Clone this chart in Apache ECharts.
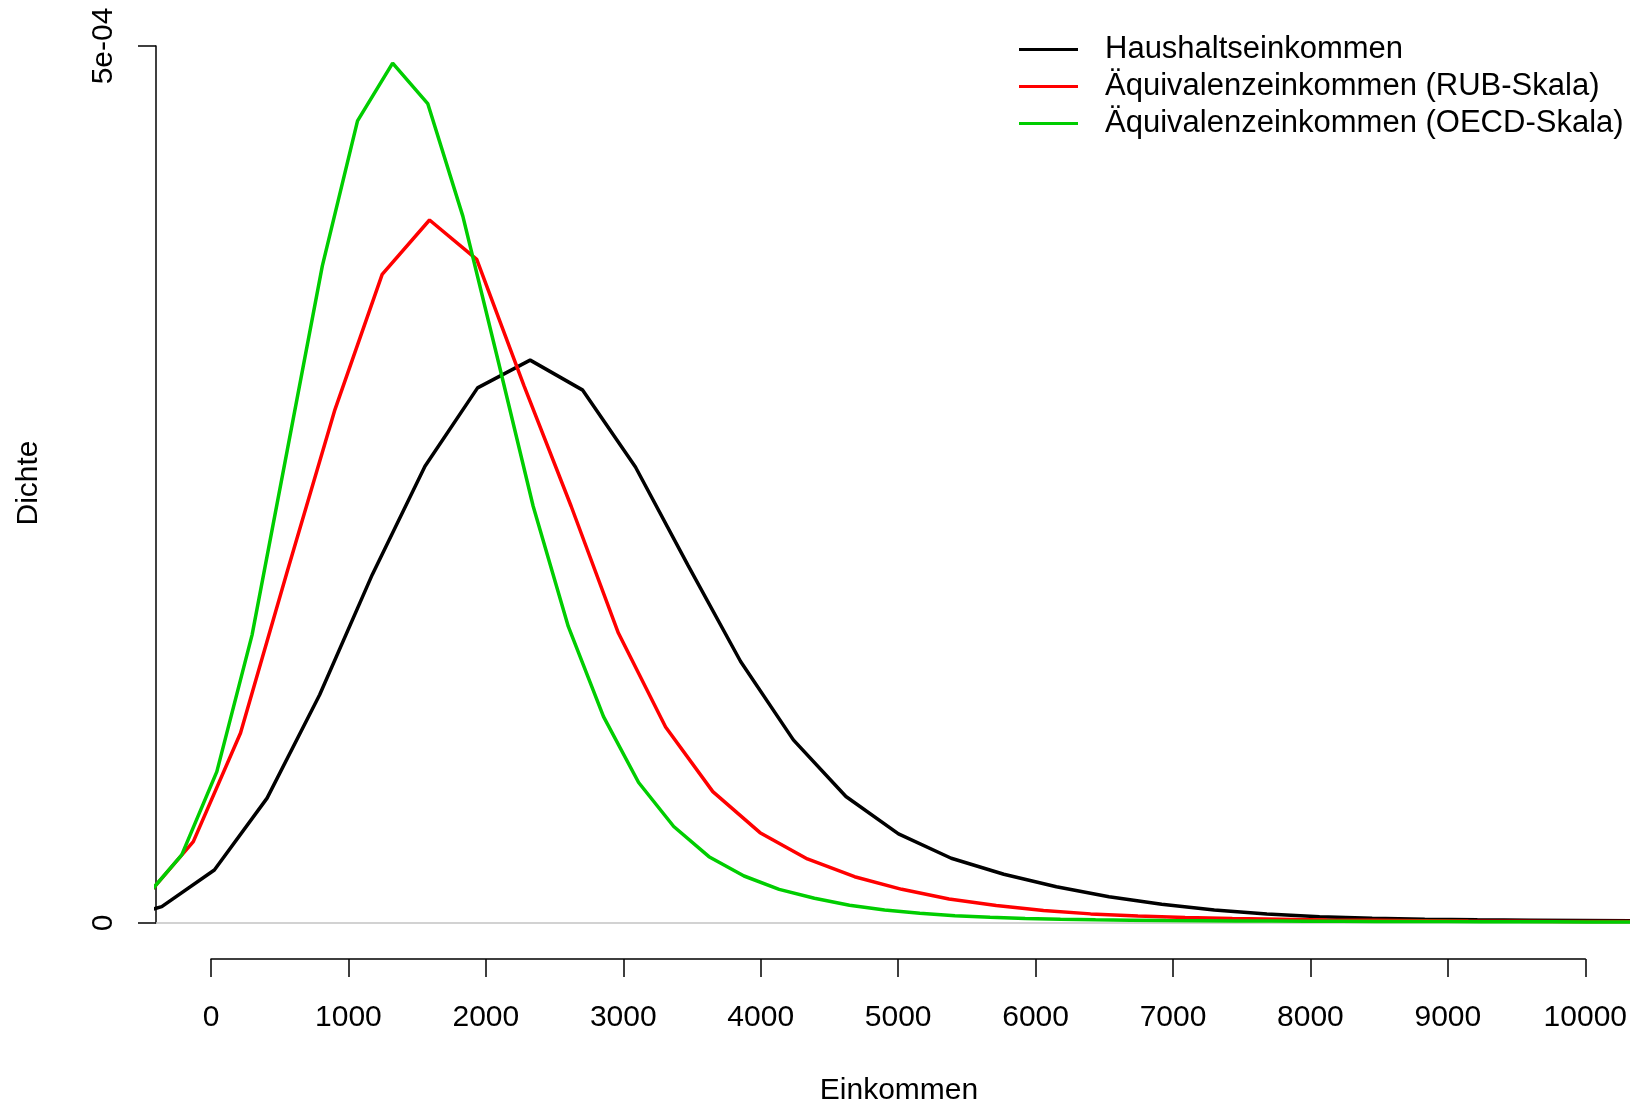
<!DOCTYPE html>
<html>
<head>
<meta charset="utf-8">
<script src="https://cdn.jsdelivr.net/npm/echarts@6/dist/echarts.min.js"></script>
<style>
html,body{margin:0;padding:0;background:#fff;}
#chart{width:1630px;height:1103px;}
</style>
</head>
<body>
<div id="chart"></div>
<script>
// ---- data ----
var seriesNames = ['Haushaltseinkommen', 'Äquivalenzeinkommen (RUB-Skala)', 'Äquivalenzeinkommen (OECD-Skala)'];
var seriesColors = ['#000000', '#FF0000', '#00CD00'];

var haushaltX = [-740, -358, 24, 407, 789, 1171, 1554, 1936, 2318, 2700, 3083, 3465, 3847, 4230, 4612, 4994, 5377, 5759, 6141, 6523, 6906, 7288, 7670, 8053, 8435, 8817, 9199, 9582, 9964, 10346];
var haushaltY = [0.9e-6, 9.3e-6, 3.02e-5, 7.12e-5, 1.301e-4, 1.986e-4, 2.604e-4, 3.051e-4, 3.209e-4, 3.038e-4, 2.600e-4, 2.039e-4, 1.491e-4, 1.044e-4, 7.21e-5, 5.08e-5, 3.69e-5, 2.78e-5, 2.07e-5, 1.50e-5, 1.07e-5, 7.4e-6, 5.1e-6, 3.6e-6, 2.7e-6, 2.2e-6, 1.8e-6, 1.6e-6, 1.4e-6, 1.2e-6];

var rubX = [-472, -129, 214, 557, 900, 1243, 1587, 1930, 2273, 2616, 2959, 3302, 3645, 3988, 4332, 4675, 5018, 5361, 5704, 6047, 6390, 6733, 7076, 7419, 7762, 8105, 8448, 8791, 9134, 9477, 9820, 10163, 10506];
var rubY = [1.51e-5, 4.64e-5, 1.083e-4, 2.014e-4, 2.927e-4, 3.698e-4, 4.008e-4, 3.783e-4, 3.064e-4, 2.376e-4, 1.653e-4, 1.117e-4, 7.49e-5, 5.15e-5, 3.65e-5, 2.64e-5, 1.92e-5, 1.37e-5, 1.00e-5, 7.1e-6, 5.2e-6, 4.0e-6, 3.1e-6, 2.5e-6, 2.1e-6, 1.7e-6, 1.5e-6, 1.3e-6, 1.1e-6, 1.0e-6, 0.9e-6, 0.85e-6, 0.8e-6];

var oecdX = [-468, -213, 42, 298, 553, 808, 1064, 1319, 1574, 1829, 2085, 2340, 2595, 2851, 3106, 3361, 3617, 3872, 4127, 4383, 4638, 4893, 5149, 5404, 5659, 5914, 6170, 6425, 6680, 6936, 7191, 7446, 7702, 7957, 8212, 8468, 8723, 8978, 9234, 9489, 9744, 10000, 10255, 10510];
var oecdY = [1.55e-5, 3.88e-5, 8.63e-5, 1.643e-4, 2.693e-4, 3.745e-4, 4.573e-4, 4.902e-4, 4.672e-4, 4.030e-4, 3.207e-4, 2.376e-4, 1.691e-4, 1.177e-4, 8.01e-5, 5.50e-5, 3.78e-5, 2.68e-5, 1.92e-5, 1.41e-5, 1.01e-5, 7.4e-6, 5.5e-6, 4.2e-6, 3.3e-6, 2.6e-6, 2.1e-6, 1.8e-6, 1.6e-6, 1.4e-6, 1.3e-6, 1.2e-6, 1.1e-6, 1.0e-6, 0.95e-6, 0.9e-6, 0.85e-6, 0.8e-6, 0.75e-6, 0.7e-6, 0.65e-6, 0.6e-6, 0.55e-6, 0.5e-6];

var xTicks = [0, 1000, 2000, 3000, 4000, 5000, 6000, 7000, 8000, 9000, 10000];
var xTickLabels = ['0', '1000', '2000', '3000', '4000', '5000', '6000', '7000', '8000', '9000', '10000'];
var yTicks = [0, 5e-4];
var yTickLabels = ['0', '5e-04'];
var xTitle = 'Einkommen';
var yTitle = 'Dichte';

// ---- chart ----
var FONT = '"Liberation Sans", Arial, Helvetica, sans-serif';
var FS = 30;

function pairs(xs, ys) {
  var out = [];
  for (var i = 0; i < xs.length; i++) out.push([xs[i], ys[i]]);
  return out;
}

var chart = echarts.init(document.getElementById('chart'), null, {renderer: 'canvas'});

var option = {
  animation: false,
  backgroundColor: '#ffffff',
  textStyle: {fontFamily: FONT},
  grid: [
    {left: 156, right: 0, top: 46, bottom: 180, containLabel: false},
    {left: 211, right: 42.7, top: 958, height: 1, containLabel: false}
  ],
  xAxis: [
    {
      gridIndex: 0, type: 'value', min: -400, max: 10308,
      axisLine: {show: true, onZero: false, lineStyle: {color: '#C4C4C4', width: 1.5}},
      axisTick: {show: false}, axisLabel: {show: false}, splitLine: {show: false}
    },
    {
      gridIndex: 1, type: 'value', position: 'bottom',
      min: xTicks[0], max: xTicks[xTicks.length - 1], interval: 1000,
      axisLine: {show: true, onZero: false, lineStyle: {color: '#000', width: 1.5}},
      axisTick: {show: true, inside: false, length: 18, lineStyle: {color: '#000', width: 1.5}},
      axisLabel: {
        show: true, margin: 44, fontSize: FS, fontFamily: FONT, color: '#000',
        formatter: function (v) { var i = xTicks.indexOf(v); return i >= 0 ? xTickLabels[i] : ''; }
      },
      splitLine: {show: false}
    }
  ],
  yAxis: [
    {
      gridIndex: 0, type: 'value', position: 'left', min: yTicks[0], max: yTicks[1], interval: 5e-4,
      axisLine: {show: true, onZero: false, lineStyle: {color: '#000', width: 1.5}},
      axisTick: {show: true, inside: false, length: 18, lineStyle: {color: '#000', width: 1.5}},
      axisLabel: {
        show: true, rotate: 90, margin: 37, fontSize: FS, fontFamily: FONT, color: '#000',
        formatter: function (v) {
          for (var i = 0; i < yTicks.length; i++) if (Math.abs(v - yTicks[i]) < 1e-9) return yTickLabels[i];
          return '';
        }
      },
      splitLine: {show: false}
    },
    {
      gridIndex: 1, type: 'value', show: false
    }
  ],
  legend: {
    show: true,
    orient: 'vertical',
    left: 1019, top: 34,
    padding: 0,
    itemGap: 6,
    itemWidth: 59, itemHeight: 3,
    icon: 'rect',
    textStyle: {fontSize: 31, fontFamily: FONT, color: '#000', lineHeight: 31, padding: [0, 0, 0, 22]},
    data: seriesNames
  },
  graphic: [
    {
      type: 'text', x: 29, y: 483, rotation: Math.PI / 2,
      style: {text: yTitle, fontSize: FS, fontFamily: FONT, fill: '#000', align: 'center', verticalAlign: 'middle'}
    },
    {
      type: 'text', x: 899, y: 1091,
      style: {text: xTitle, fontSize: FS, fontFamily: FONT, fill: '#000', align: 'center', verticalAlign: 'middle'}
    }
  ],
  series: [
    {
      name: seriesNames[0], type: 'line', xAxisIndex: 0, yAxisIndex: 0,
      data: pairs(haushaltX, haushaltY), symbol: 'none', showSymbol: false, clip: true,
      lineStyle: {color: seriesColors[0], width: 3.5}, itemStyle: {color: seriesColors[0]}
    },
    {
      name: seriesNames[1], type: 'line', xAxisIndex: 0, yAxisIndex: 0,
      data: pairs(rubX, rubY), symbol: 'none', showSymbol: false, clip: true,
      lineStyle: {color: seriesColors[1], width: 3.5}, itemStyle: {color: seriesColors[1]}
    },
    {
      name: seriesNames[2], type: 'line', xAxisIndex: 0, yAxisIndex: 0,
      data: pairs(oecdX, oecdY), symbol: 'none', showSymbol: false, clip: true,
      lineStyle: {color: seriesColors[2], width: 3.5}, itemStyle: {color: seriesColors[2]}
    }
  ]
};
chart.setOption(option);
</script>
</body>
</html>
